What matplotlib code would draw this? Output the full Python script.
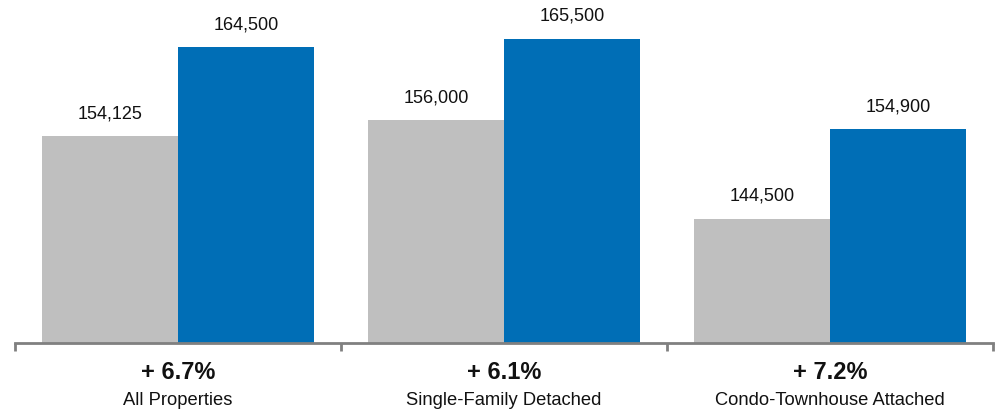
import numpy as np
import matplotlib
matplotlib.use("Agg")
import matplotlib.pyplot as plt

plt.rcParams["font.family"] = ["Liberation Sans", "DejaVu Sans"]

categories = ["All Properties", "Single-Family Detached", "Condo-Townhouse Attached"]
prior_year = [154125, 156000, 144500]
current_year = [164500, 165500, 154900]

GRAY = "#BFBFBF"
BLUE = "#006EB6"


def main():
    fig = plt.figure(figsize=(9.99, 4.12), dpi=100)
    ax = fig.add_axes([15 / 999, 69 / 412, 978 / 999, 343 / 412])

    x = np.arange(len(categories))
    width = 0.417

    ax.bar(x - width / 2, prior_year, width=width, color=GRAY, zorder=2)
    ax.bar(x + width / 2, current_year, width=width, color=BLUE, zorder=2)

    # valeurs au-dessus des barres
    for xi, p, c in zip(x, prior_year, current_year):
        ax.annotate(f"{p:,}", (xi - width / 2, p), xytext=(0, 10),
                    textcoords="offset points", ha="center", va="bottom",
                    fontsize=13, color="#111111")
        ax.annotate(f"{c:,}", (xi + width / 2, c), xytext=(0, 10),
                    textcoords="offset points", ha="center", va="bottom",
                    fontsize=13, color="#111111")

    ax.set_xlim(-0.5, len(categories) - 0.5)
    ax.set_ylim(130000, 170000)

    for s in ["top", "right", "left"]:
        ax.spines[s].set_visible(False)
    ax.spines["bottom"].set_color("#808080")
    ax.spines["bottom"].set_linewidth(2)
    ax.set_yticks([])

    # petits traits entre les groupes
    ax.set_xticks(np.arange(len(categories) + 1) - 0.5)
    ax.set_xticklabels([])
    ax.tick_params(axis="x", direction="out", length=6, width=2, color="#808080")

    # variation en % et nom de la catégorie sous l'axe
    for xi, p, c, name in zip(x, prior_year, current_year, categories):
        pct = (c / p - 1) * 100
        ax.text(xi, -0.085, f"+ {pct:.1f}%", transform=ax.get_xaxis_transform(),
                ha="center", va="center", fontsize=17, fontweight="bold",
                color="#111111")
        ax.text(xi, -0.167, name, transform=ax.get_xaxis_transform(),
                ha="center", va="center", fontsize=13.2, color="#111111")

    fig.savefig("out.png", dpi=100)


if __name__ == "__main__":
    main()
